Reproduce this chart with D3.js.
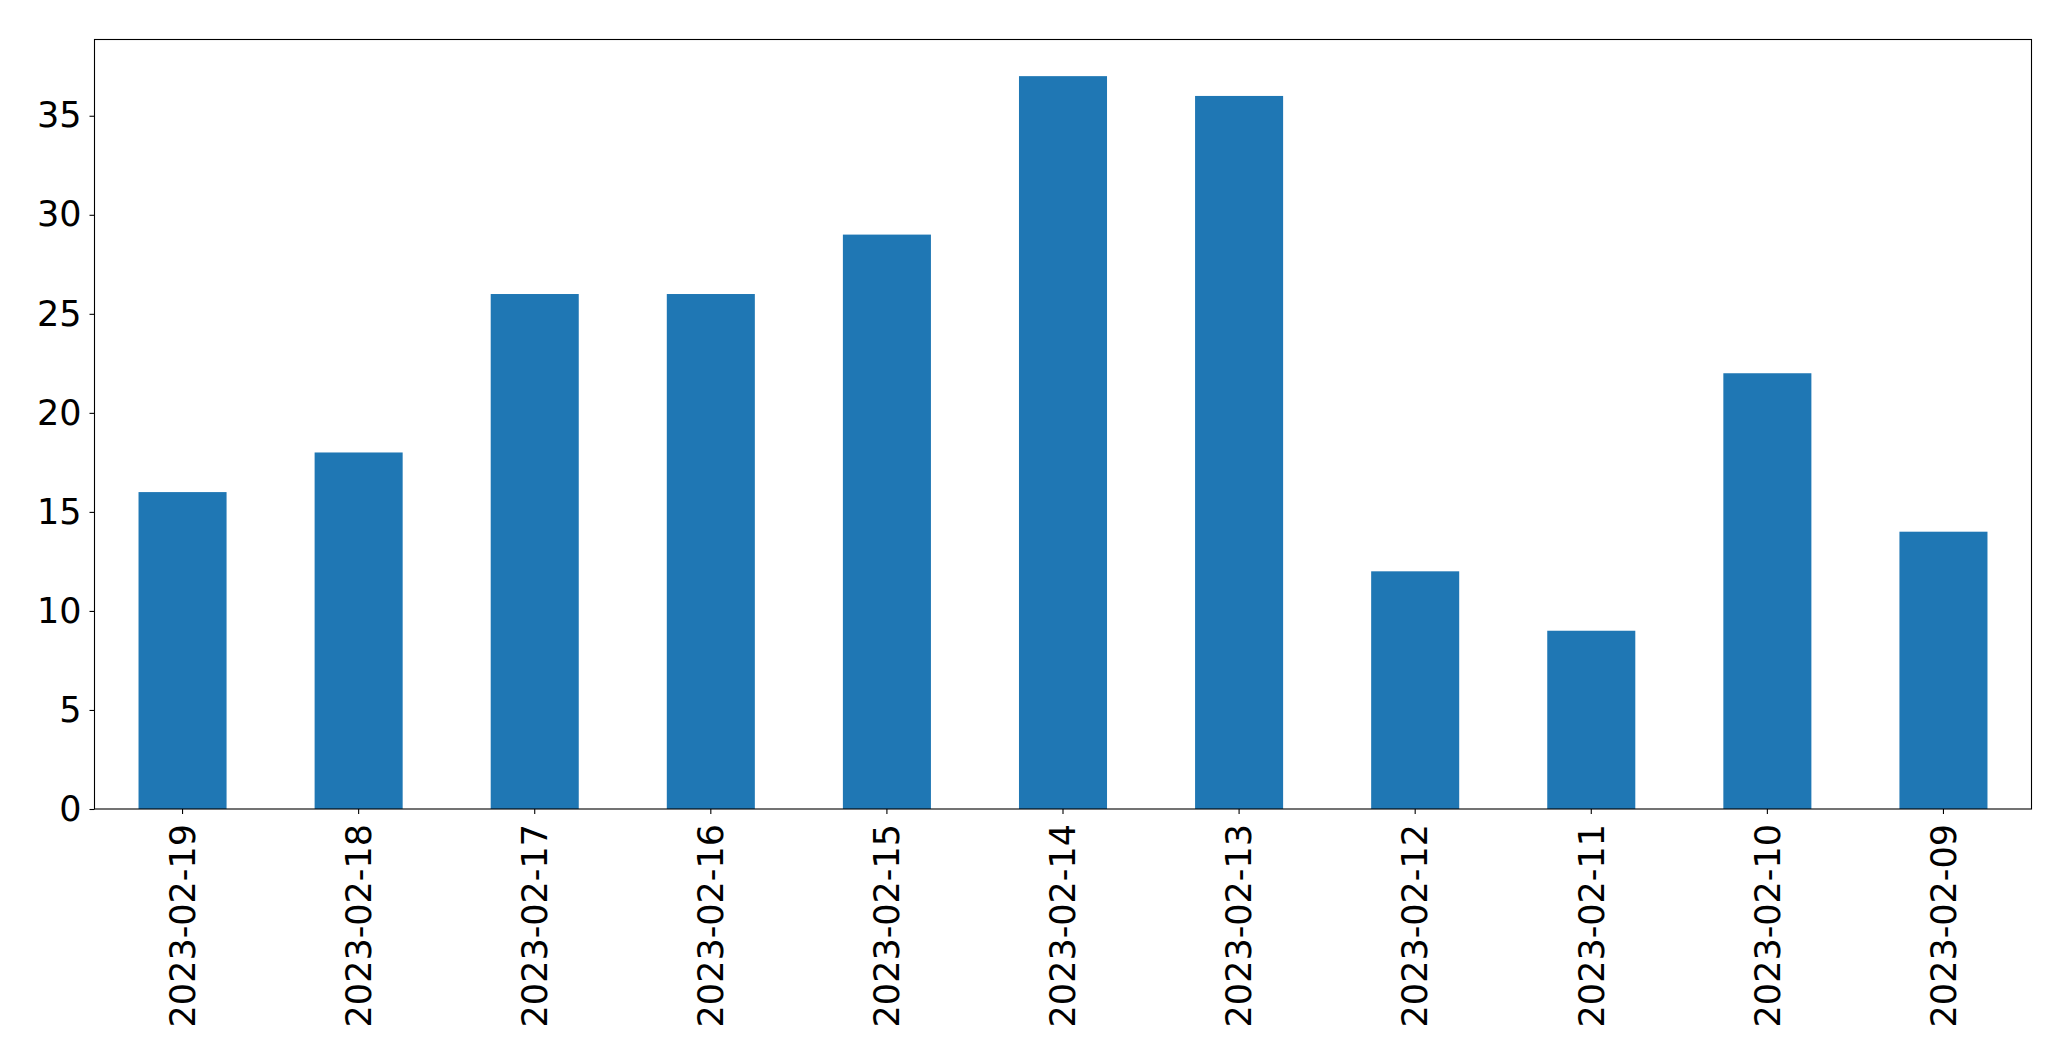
<!DOCTYPE html>
<html><head><meta charset="utf-8">
<script src="https://cdn.jsdelivr.net/npm/d3@7"></script>
<style>html,body{margin:0;padding:0;background:#fff;} svg{display:block;}</style>
</head><body>
<script>
const categories = ["2023-02-19","2023-02-18","2023-02-17","2023-02-16","2023-02-15","2023-02-14","2023-02-13","2023-02-12","2023-02-11","2023-02-10","2023-02-09"];
const values = [16,18,26,26,29,37,36,12,9,22,14];
const yTicks = [0,5,10,15,20,25,30,35];

const W = 2071, H = 1061;
const mLeft = 94.5, mRight = 2031.5, mTop = 39.5, mBottom = 809;
const fontSize = 35;

const svg = d3.select("body").append("svg").attr("width", W).attr("height", H);

const x = d3.scaleBand().domain(categories).range([mLeft, mRight]).paddingInner(0.5).paddingOuter(0.25);
const y = d3.scaleLinear().domain([0, d3.max(values) * 1.05]).range([mBottom, mTop]);

svg.append("g").selectAll("rect").data(values).join("rect")
  .attr("x", (d, i) => x(categories[i]))
  .attr("width", x.bandwidth())
  .attr("y", d => y(d))
  .attr("height", d => y(0) - y(d))
  .attr("fill", "#1f77b4");

const yAxis = svg.append("g").attr("transform", `translate(${mLeft},0)`)
  .call(d3.axisLeft(y).tickValues(yTicks).tickSize(5).tickPadding(8).tickFormat(d3.format("d")));
yAxis.select(".domain").remove();
yAxis.selectAll("text").attr("font-family", "DejaVu Sans").attr("font-size", fontSize).attr("fill", "#000");
yAxis.selectAll("line").attr("stroke", "#000").attr("stroke-width", 1.1);

const xAxis = svg.append("g").attr("transform", `translate(0,${mBottom})`)
  .call(d3.axisBottom(x).tickSize(5).tickPadding(0));
xAxis.select(".domain").remove();
xAxis.selectAll("line").attr("stroke", "#000").attr("stroke-width", 1.1);
xAxis.selectAll("text")
  .attr("font-family", "DejaVu Sans").attr("font-size", fontSize).attr("fill", "#000")
  .attr("text-anchor", "end").attr("dy", "0.35em")
  .attr("transform", "translate(0,15) rotate(-90)")
  .attr("x", 0).attr("y", 0);

svg.append("rect").attr("x", mLeft).attr("y", mTop).attr("width", mRight - mLeft).attr("height", mBottom - mTop)
  .attr("fill", "none").attr("stroke", "#000").attr("stroke-width", 1.1);
</script>
</body></html>
